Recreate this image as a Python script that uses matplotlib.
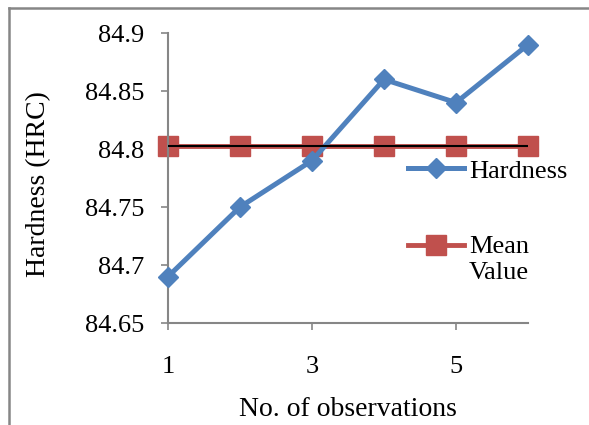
import numpy as np
import matplotlib
matplotlib.use("Agg")
import matplotlib.pyplot as plt
from matplotlib.lines import Line2D

obs = [1, 2, 3, 4, 5, 6]
hardness = [84.69, 84.75, 84.79, 84.86, 84.84, 84.89]
mean_val = [84.803] * 6
xtick_vals = [1, 3, 5]
ytick_vals = [84.65, 84.7, 84.75, 84.8, 84.85, 84.9]
ytick_labels = ["84.65", "84.7", "84.75", "84.8", "84.85", "84.9"]

plt.rcParams['font.family'] = ['Liberation Serif', 'DejaVu Serif']
plt.rcParams['font.size'] = 19

blue = '#4F81BD'
red = '#C0504D'
grey = '#868686'

fig = plt.figure(figsize=(5.89, 4.25), dpi=100)
ax = fig.add_axes([168/589, 1 - 323/425, 360/589, 290/425])

ax.plot(obs, hardness, color=blue, lw=3.6, marker='D', markersize=10.5,
        label='Hardness', zorder=3, clip_on=False)
ax.plot(obs, mean_val, color=red, lw=3.5, marker='s', markersize=14,
        label='Mean\nValue', zorder=2, clip_on=False)
ax.plot(obs, mean_val, color='black', lw=1.5, zorder=4)

ax.set_xlim(1, 6)
ax.set_ylim(84.65, 84.9)
ax.set_xticks(xtick_vals)
ax.set_yticks(ytick_vals)
ax.set_yticklabels(ytick_labels)

for s in ['top', 'right']:
    ax.spines[s].set_visible(False)
for s in ['left', 'bottom']:
    ax.spines[s].set_color(grey)
    ax.spines[s].set_linewidth(1.5)
ax.tick_params(axis='y', direction='out', length=5, width=1.2, color=grey, pad=12)
ax.tick_params(axis='x', direction='out', length=5, width=1.2, color=grey, pad=19)

ax.set_xlabel('No. of observations', fontsize=20)
ax.set_ylabel('Hardness (HRC)', fontsize=20)
ax.yaxis.set_label_coords(-0.325, 0.478)
ax.xaxis.set_label_coords(0.5, -0.255)

leg = ax.legend(loc='upper left', bbox_to_anchor=(0.667, 0.565), frameon=False,
                handlelength=2.1, handletextpad=0.2, labelspacing=2.03,
                borderpad=0, borderaxespad=0)
leg.get_texts()[1].set_linespacing(1.2)
# Excel puts the handle level with the first line of a two-line label
for ln in leg.findobj(Line2D):
    if ln.get_color() == red:
        ln.set_ydata(np.asarray(ln.get_ydata()) + 10)

# chart area border (cropped on right and bottom)
fig.add_artist(Line2D([9/589, 9/589], [0, 1 - 8/425], color=grey, lw=1.8,
                      transform=fig.transFigure))
fig.add_artist(Line2D([9/589, 1], [1 - 8/425, 1 - 8/425], color=grey, lw=1.8,
                      transform=fig.transFigure))

fig.savefig('out.png', dpi=100)
